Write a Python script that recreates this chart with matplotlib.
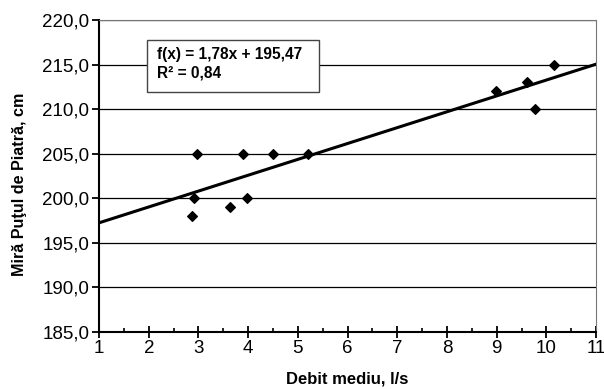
import numpy as np
import matplotlib
matplotlib.use('Agg')
import matplotlib.pyplot as plt
from matplotlib.ticker import FuncFormatter, MultipleLocator
from matplotlib.patches import Rectangle

plt.rcParams['font.family'] = ['Liberation Sans', 'DejaVu Sans']

# Date
debit = [2.87, 2.91, 2.97, 3.64, 3.90, 3.97, 4.50, 5.20, 8.99, 9.61, 9.77, 10.15]
mira = [198.0, 200.0, 205.0, 199.0, 205.0, 200.0, 205.0, 205.0, 212.0, 213.0, 210.0, 215.0]

# Linia de tendinta
panta = 1.78
intercept = 195.47
x_trend = [1, 11]

fig = plt.figure(figsize=(6.04, 3.89), dpi=100)
ax = fig.add_axes([0.164, 0.1465, 0.823, 0.802])

xt = np.array(x_trend)
ax.plot(xt, panta * xt + intercept, color='black', lw=2.2, zorder=3)
ax.scatter(debit, mira, marker='D', s=24, color='black', zorder=4)

ax.set_xlim(1, 11)
ax.set_ylim(185, 220)
ax.yaxis.set_major_locator(MultipleLocator(5))
ax.xaxis.set_major_locator(MultipleLocator(1))
ax.xaxis.set_minor_locator(MultipleLocator(0.5))
ax.yaxis.set_major_formatter(FuncFormatter(lambda v, p: f"{v:.1f}".replace('.', ',')))
ax.grid(axis='y', color='black', lw=0.9)

for s in ['top', 'right']:
    ax.spines[s].set_color('#777777')
for s in ['left', 'bottom']:
    ax.spines[s].set_linewidth(1.5)

ax.tick_params(axis='x', which='major', direction='inout', length=8, width=1.3, labelsize=13.5, pad=2)
ax.tick_params(axis='x', which='minor', direction='in', length=3, width=1.2)
ax.tick_params(axis='y', which='major', direction='out', length=5, width=1.3, labelsize=13.5, pad=2)

ax.set_xlabel('Debit mediu, l/s', fontsize=12, fontweight='bold', labelpad=10)
ax.set_ylabel('Miră Puţul de Piatră, cm', fontsize=11.6, fontweight='bold')
ax.yaxis.set_label_coords(-0.145, 0.474)

# caseta ecuatiei
ax.add_patch(Rectangle((0.0966, 0.769), 0.346, 0.167, transform=ax.transAxes,
                       fc='white', ec='#444444', lw=1, zorder=5))
ax.text(0.117, 0.915, 'f(x) = 1,78x + 195,47\nR² = 0,84', transform=ax.transAxes,
        fontsize=11.2, fontweight='bold', va='top', ha='left', linespacing=1.3, zorder=6)

fig.savefig('out.png', dpi=100)
